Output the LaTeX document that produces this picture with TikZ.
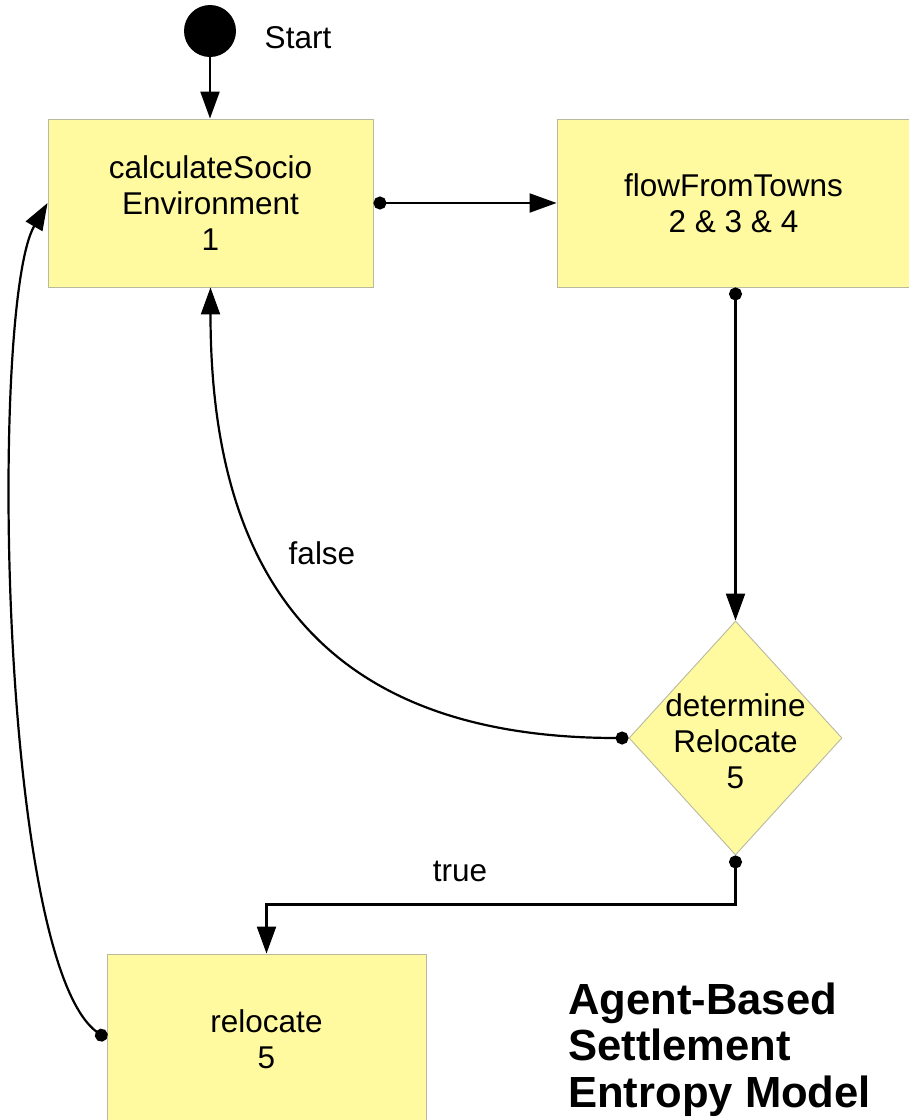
\documentclass[tikz,border=0pt]{standalone}
\usepackage{fontspec}
\setmainfont{Liberation Sans}
\usetikzlibrary{arrows.meta,shapes.geometric,calc}
\definecolor{boxfill}{RGB}{255,250,160}
\definecolor{boxline}{RGB}{185,185,160}
\newcommand{\nodefont}{\fontsize{31.5}{36}\selectfont}
\newcommand{\titlefont}{\fontsize{43.6}{46.5}\selectfont\bfseries}
\begin{document}
\begin{tikzpicture}[x=1pt,y=-1pt,
  box/.style={draw=boxline, fill=boxfill, line width=0.9pt, inner sep=0pt, align=center, font=\nodefont},
  flow/.style={line width=2.2pt, -{Triangle[length=27pt,width=19pt]}},
  dotflow/.style={line width=2.2pt, {Circle[length=13pt]}-{Triangle[length=27pt,width=19pt]}},
  lbl/.style={font=\nodefont, inner sep=0pt}]
\useasboundingbox (0,0) rectangle (909,1120);
\fill[white] (0,0) rectangle (909,1120);

\node[circle, fill=black, minimum size=52pt, inner sep=0pt] (start) at (210,31) {};
\node[lbl] (starttext) at (298,38) {Start};

\node[box, minimum width=325pt, minimum height=168pt] (b1) at (210.5,203) {calculateSocio\\Environment\\1};
\node[box, minimum width=353pt, minimum height=168pt] (b2) at (733.5,203) {flowFromTowns\\2 \& 3 \& 4};
\node[diamond, draw=boxline, fill=boxfill, line width=0.9pt, minimum width=213pt, minimum height=234pt, inner sep=0pt] (d) at (735.5,738) {};
\node[font=\nodefont, align=center, inner sep=0pt] (dtext) at (735.5,741) {determine\\Relocate\\5};
\node[box, minimum width=319pt, minimum height=170pt] (b3) at (266.5,1039) {relocate\\5};

\draw[flow] (start) -- (b1.north -| start);
\draw[dotflow] (b1.east) -- (b2.west);
\draw[dotflow] (d.north |- b2.south) -- (d.north);
\draw[dotflow] (d.west) .. controls +(-319,0) and +(0,273) .. (b1.south);
\draw[dotflow] (d.south) -- ++(0,49) -| (b3.north);
\draw[dotflow] (b3.west) .. controls +(-108,-79) and +(-58,100) .. (b1.west);

\node[lbl] (falselbl) at (322,553) {false};
\node[lbl] (truelbl) at (460,871) {true};

\node[anchor=base west, inner sep=0pt, font=\titlefont] (title) at (568,1014)
  {\begin{tabular}[t]{@{}l@{}}Agent-Based\\Settlement\\Entropy Model\end{tabular}};
\end{tikzpicture}
\end{document}
